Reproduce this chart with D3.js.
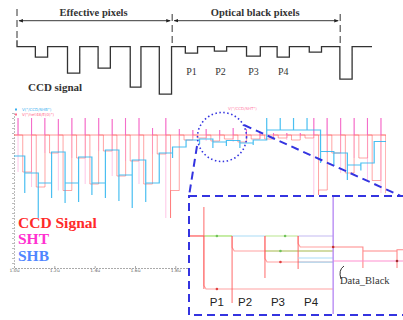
<!DOCTYPE html>
<html>
<head>
<meta charset="utf-8">
<script src="https://cdn.jsdelivr.net/npm/d3@7/dist/d3.min.js"></script>
<style>
  html, body { margin: 0; padding: 0; background: #fff; }
  svg { display: block; }
</style>
</head>
<body>
<svg id="chart" width="403" height="320"></svg>
<script>
// ---- top schematic: CCD output waveform ----
const schemEdges = [0, 5.07, 10.56];
const schemLabels = ["Effective pixels", "Optical black pixels"];
const ccdDropStart = [0.6, 1.65, 2.65, 3.7, 4.65, 5.5, 6.45, 7.5, 8.5, 9.55, 10.55];
const ccdDropEnd   = [1.0, 2.05, 3.05, 4.05, 5.05, 5.9, 6.85, 7.95, 8.9, 9.95, 10.95];
const ccdDepth     = [0.21, 0.53, 0.43, 0.81, 0.95, 0.13, 0.09, 0.19, 0.21, 0.11, 0.65];
const obNames = ["P1", "P2", "P3", "P4"];
const obIndex = [5, 6, 7, 8];

// ---- simulation plot (time in us, voltage in V) ----
const xTicks = [1.0, 1.2, 1.4, 1.6, 1.8, 2.0, 2.2, 2.4, 2.6, 2.8];
const xTickLabels = ["1.0u", "1.2u", "1.4u", "1.6u", "1.8u", "2.0u", "2.2u", "2.4u", "2.6u", "2.8u"];
const pixPeriod = 0.0667;
const resetLevel = 2.66;
const pixStart = [1.02, 1.087, 1.153, 1.22, 1.287, 1.353, 1.42, 1.487, 1.553, 1.62, 1.687, 1.753,
                  1.82, 1.887, 1.953, 2.02, 2.087, 2.153,
                  2.22, 2.287, 2.353, 2.42, 2.487, 2.553, 2.62, 2.687, 2.753, 2.82];
const ccdLevel = [1.92, 1.62, 2.3, 1.55, 2.2, 1.68, 2.34, 1.84, 2.14, 1.68, 2.28, 1.55,
                  2.56, 2.6, 2.54, 2.58, 2.52, 2.58,
                  2.58, 2.6, 2.56, 2.6, 1.56, 2.3, 1.9, 2.2, 1.75, 1.5];
const ccdDip   = [1.92, 1.62, 2.3, 1.55, 2.2, 1.68, 2.34, 1.84, 2.14, 1.68, 2.28, 1.0,
                  2.56, 2.6, 2.54, 2.58, 2.52, 2.58,
                  2.58, 2.6, 2.56, 2.6, 1.46, 2.3, 1.9, 2.2, 1.75, 1.5];
const shtTop   = [3.0, 3.0, 3.0, 2.98, 3.0, 3.0, 3.0, 2.98, 3.0, 3.0, 2.8, 3.0,
                  2.78, 2.76, 2.78, 2.76, 2.8, 2.78,
                  2.7, 2.7, 2.7, 2.7, 3.0, 3.0, 3.0, 3.0, 3.0, 3.0];
const shbStart = 2.24;
const shbLevel = [1.9, 1.7, 2.32, 1.7, 2.22, 1.7, 2.36, 1.86, 2.16, 1.7, 2.3, 2.42,
                  2.56, 2.58, 2.52, 2.55, 2.5, 2.56,
                  2.76, 2.76, 2.76, 2.76, 2.33, 2.3, 2.06, 2.1, 2.53, 1.96];
const shbSpike = [1.5, 1.0, 1.4, 1.3, 1.32, 1.46, 1.4, 1.34, 1.2, 1.32, 1.9, 2.2,
                  2.45, 2.48, 2.4, 2.44, 2.4, 2.46,
                  3.0, 3.0, 3.0, 3.0, 2.1, 2.05, 1.76, 1.95, 2.3, 1.8];

// ---- zoomed inset ----
const insetBase = 0.664;
const insetStart = [0.48, 1.39, 2.45, 3.52];
const insetLevel = [0.218, 0.538, 0.445, 0.571];
const insetTop = [0.908, 0.664, 0.664, 0.664];
const insetBottom = [0.218, 0.1, 0.311, 0.387];
const sampleT = 4.65;
const darkStart = [4.65, 5.61, 6.71];
const darkLevel = [0.571, 0.538, 0.548];
const darkSpike = [0.571, 0.395, 0.395];
const dataBlackLevel = 0.454;

const svg = d3.select("#chart");
svg.append("rect").attr("width", 403).attr("height", 320).attr("fill", "#fff");

// ================= top schematic =================
const xTop = d3.scaleLinear().domain([0, 11.6]).range([17, 372]);
const yTop = d3.scaleLinear().domain([0, 1]).range([46.7, 96.7]);

const defs = svg.append("defs");
["arrEnd", "arrStart"].forEach((id, k) => {
  defs.append("marker")
    .attr("id", id).attr("viewBox", "0 0 8 8")
    .attr("refX", k ? 1 : 7).attr("refY", 4)
    .attr("markerWidth", 5).attr("markerHeight", 5).attr("orient", "auto")
    .append("path")
    .attr("d", k ? "M8,1 L0,4 L8,7 Z" : "M0,1 L8,4 L0,7 Z")
    .attr("fill", "#222");
});

const topG = svg.append("g");
schemEdges.forEach((e, i) => {
  topG.append("line")
    .attr("x1", xTop(e)).attr("x2", xTop(e))
    .attr("y1", i === 0 ? 9 : 14).attr("y2", i === 0 ? 38 : 46)
    .attr("stroke", "#333").attr("stroke-width", 1)
    .attr("stroke-dasharray", "7,4");
});
schemLabels.forEach((lab, i) => {
  const a = schemEdges[i], b = schemEdges[i + 1];
  topG.append("line")
    .attr("x1", xTop(a) + 2).attr("x2", xTop(b) - 2)
    .attr("y1", 20.7).attr("y2", 20.7)
    .attr("stroke", "#222").attr("stroke-width", 0.9)
    .attr("marker-start", "url(#arrStart)").attr("marker-end", "url(#arrEnd)");
  topG.append("text")
    .attr("x", xTop((a + b) / 2) - 1).attr("y", 15.5)
    .attr("text-anchor", "middle")
    .attr("font-family", "Liberation Serif, serif").attr("font-weight", "bold")
    .attr("font-size", 10.5).attr("fill", "#333")
    .text(lab);
});

const wave = [[0, -0.13], [0, 0]];
ccdDropStart.forEach((s, i) => {
  wave.push([s, 0], [s, ccdDepth[i]], [ccdDropEnd[i], ccdDepth[i]], [ccdDropEnd[i], 0]);
});
wave.push([11.6, 0]);
topG.append("path")
  .attr("d", d3.line().x(d => xTop(d[0])).y(d => yTop(d[1]))(wave))
  .attr("fill", "none").attr("stroke", "#333").attr("stroke-width", 1.3);

obIndex.forEach((k, i) => {
  topG.append("text")
    .attr("x", xTop((ccdDropStart[k] + ccdDropEnd[k]) / 2)).attr("y", 75)
    .attr("text-anchor", "middle")
    .attr("font-family", "Liberation Serif, serif").attr("font-size", 10)
    .attr("fill", "#333").text(obNames[i]);
});
topG.append("text")
  .attr("x", 28).attr("y", 91)
  .attr("font-family", "Liberation Serif, serif").attr("font-weight", "bold")
  .attr("font-size", 11).attr("fill", "#333").text("CCD signal");

// ================= simulation plot =================
const x = d3.scaleLinear().domain([1.0, 2.84]).range([14, 385]);
const y = d3.scaleLinear().domain([0, 3.1]).range([268, 113]);

const plot = svg.append("g");
defs.append("clipPath").attr("id", "plotClip")
  .append("rect").attr("x", 14).attr("y", 108).attr("width", 372).attr("height", 160);

const yAxis = plot.append("g").attr("transform", "translate(14,0)")
  .call(d3.axisLeft(y).ticks(30).tickSize(2).tickFormat(""));
yAxis.select(".domain").attr("stroke", "#bbb").attr("stroke-dasharray", "2,1");
yAxis.selectAll("line").attr("stroke", "#bbb");

const xAxis = plot.append("g").attr("transform", "translate(0,268)")
  .call(d3.axisBottom(x).tickValues(xTicks).tickSize(-2)
    .tickFormat((d, i) => xTickLabels[i]));
xAxis.select(".domain").attr("stroke", "#aaa").attr("stroke-dasharray", "2,1");
xAxis.selectAll("line").attr("stroke", "#aaa");
xAxis.selectAll("text").attr("font-size", 4.5).attr("fill", "#666")
  .attr("font-family", "DejaVu Sans, sans-serif").attr("dy", "0.3em").attr("y", 3);

const g = plot.append("g").attr("clip-path", "url(#plotClip)");
const line = d3.line().x(d => x(d[0])).y(d => y(d[1]));

// reset level reference
g.append("path")
  .attr("d", line([[1.0, resetLevel], [2.9, resetLevel]]))
  .attr("stroke", "#ff6b6b").attr("stroke-opacity", 0.7).attr("stroke-width", 1).attr("fill", "none");

// CCD signal
const ccdPts = [[1.0, resetLevel]];
pixStart.forEach((t, i) => {
  const td = t + 0.35 * pixPeriod;
  ccdPts.push([td, resetLevel], [td, ccdDip[i]], [td, ccdLevel[i]],
              [t + pixPeriod, ccdLevel[i]], [t + pixPeriod, resetLevel]);
});
g.append("path").attr("d", line(ccdPts))
  .attr("fill", "none").attr("stroke", "#ff5b5b").attr("stroke-opacity", 0.55).attr("stroke-width", 1);

// SHT pulses
pixStart.forEach((t, i) => {
  const low = Math.min(ccdDip[i], resetLevel);
  g.append("path").attr("d", line([[t, low], [t, shtTop[i]]]))
    .attr("stroke", "#ff7fc8").attr("stroke-opacity", 0.45).attr("stroke-width", 1);
  g.append("path").attr("d", line([[t, resetLevel], [t, shtTop[i]]]))
    .attr("stroke", "#f050c0").attr("stroke-opacity", 0.75).attr("stroke-width", 1.1);
});

// SHB
const shbPts = [[1.0, shbStart]];
let prev = shbStart;
pixStart.forEach((t, i) => {
  const tb = t + 0.5 * pixPeriod;
  shbPts.push([tb, prev], [tb, shbSpike[i]], [tb, shbLevel[i]]);
  prev = shbLevel[i];
});
shbPts.push([2.9, prev]);
g.append("path").attr("d", line(shbPts))
  .attr("fill", "none").attr("stroke", "#2ab4ee").attr("stroke-opacity", 0.85).attr("stroke-width", 1.2);

// tiny legend of simulator
const simLeg = [["V(\"/CCD/SHB\")", "#3ab0f0", 111], ["V(\"/net48/E(0)\")", "#ff6b8b", 116]];
simLeg.forEach(d => {
  plot.append("rect").attr("x", 15).attr("y", d[2] - 2.5).attr("width", 2).attr("height", 2).attr("fill", d[1]);
  plot.append("text").attr("x", 22).attr("y", d[2]).attr("font-size", 4)
    .attr("font-family", "DejaVu Sans, sans-serif").attr("fill", d[1]).text(d[0]);
});
plot.append("text").attr("x", 228).attr("y", 110).attr("font-size", 4)
  .attr("font-family", "DejaVu Sans, sans-serif").attr("fill", "#ff7fa8").text("V(\"/CCD/SHT\")");

// big legend
const bigLeg = [["CCD Signal", "#ff2a2a", 228], ["SHT", "#ff30d0", 244], ["SHB", "#4f86ff", 261]];
bigLeg.forEach(d => {
  svg.append("text").attr("x", 18).attr("y", d[2])
    .attr("font-family", "Liberation Serif, serif").attr("font-weight", "bold")
    .attr("font-size", 15.5).attr("fill", d[1]).text(d[0]);
});

// ================= zoom callout =================
const blue = "#3434e0";
svg.append("circle").attr("cx", 222).attr("cy", 137).attr("r", 24.5)
  .attr("fill", "none").attr("stroke", blue).attr("stroke-width", 1.6)
  .attr("stroke-dasharray", "1.5,2.5");
svg.append("line").attr("x1", 197).attr("y1", 146).attr("x2", 189).attr("y2", 196)
  .attr("stroke", blue).attr("stroke-width", 2).attr("stroke-dasharray", "8,5");
svg.append("line").attr("x1", 244).attr("y1", 125).attr("x2", 403).attr("y2", 197)
  .attr("stroke", blue).attr("stroke-width", 2).attr("stroke-dasharray", "8,5");

svg.append("rect").attr("x", 189).attr("y", 196).attr("width", 220).attr("height", 119)
  .attr("fill", "#fff").attr("stroke", blue).attr("stroke-width", 2).attr("stroke-dasharray", "8,5");

const xIn = d3.scaleLinear().domain([0, 7]).range([189, 406]);
const yIn = d3.scaleLinear().domain([0, 1]).range([315, 196]);
const lineIn = d3.line().x(d => xIn(d[0])).y(d => yIn(d[1]));
const inset = svg.append("g");
defs.append("clipPath").attr("id", "insetClip")
  .append("rect").attr("x", 190).attr("y", 197).attr("width", 213).attr("height", 117);
inset.attr("clip-path", "url(#insetClip)");

const redIn = "#ff5555";
// reset level, coloured per sampling node
const baseColors = ["#ff5555", "#9fe06a", "#a9dcf6", "#b9e690", "#c4baf2"];
const baseEdges = [0, insetStart[0], insetStart[1], insetStart[2], insetStart[3], sampleT];
baseColors.forEach((c, i) => {
  inset.append("path").attr("d", lineIn([[baseEdges[i], insetBase], [baseEdges[i + 1], insetBase]]))
    .attr("stroke", c).attr("stroke-width", 1.2);
});
// held pixel levels
const overlay = [null, "#a6e57a", "#a9dcf6", null];
insetStart.forEach((s, i) => {
  inset.append("path").attr("d", lineIn([[s, insetTop[i]], [s, insetBottom[i]]]))
    .attr("stroke", redIn).attr("stroke-opacity", 0.8).attr("stroke-width", 1.1);
  const lv = insetLevel[i];
  inset.append("path")
    .attr("d", lineIn([[s, insetBase], [s, lv + 0.03], [s + 0.07, lv], [sampleT, lv]]))
    .attr("fill", "none").attr("stroke", redIn).attr("stroke-opacity", 0.55).attr("stroke-width", 1.1);
  if (overlay[i]) {
    inset.append("path").attr("d", lineIn([[insetStart[i + 1], lv], [sampleT, lv]]))
      .attr("stroke", overlay[i]).attr("stroke-width", 1.2);
  }
});
inset.append("path").attr("d", lineIn([[insetStart[3], 0.479], [sampleT, 0.479]]))
  .attr("stroke", "#a9dcf6").attr("stroke-width", 1.2);

// after the sampling point
const darkPts = [];
darkStart.forEach((s, i) => {
  const prevLv = i ? darkLevel[i - 1] : darkLevel[0];
  darkPts.push([s, prevLv], [s, darkSpike[i]], [s, darkLevel[i]]);
});
darkPts.push([7.2, darkLevel[2]]);
inset.append("path").attr("d", lineIn(darkPts))
  .attr("fill", "none").attr("stroke", redIn).attr("stroke-opacity", 0.7).attr("stroke-width", 1.1);
inset.append("path").attr("d", lineIn([[sampleT, dataBlackLevel], [7.2, dataBlackLevel]]))
  .attr("stroke", "#ff8fd0").attr("stroke-width", 1.1);
inset.append("path").attr("d", lineIn([[sampleT, 0], [sampleT, 1]]))
  .attr("stroke", "#b98cf4").attr("stroke-width", 1.4);

// probe markers
const dots = [[0.9, insetBase, "#6fc25a"], [3.1, insetBase, "#6fc25a"], [2.95, 0.538, "#6fc25a"],
              [0.9, 0.218, "#e04040"], [2.95, 0.445, "#e04040"], [sampleT, 0.571, "#c03030"],
              [6.71, dataBlackLevel, "#a03030"]];
dots.forEach(d => {
  inset.append("circle").attr("cx", xIn(d[0])).attr("cy", yIn(d[1])).attr("r", 1.3).attr("fill", d[2]);
});

insetStart.forEach((s, i) => {
  svg.append("text").attr("x", xIn(s + 0.42)).attr("y", 306)
    .attr("text-anchor", "middle")
    .attr("font-family", "Liberation Sans, Arial, sans-serif").attr("font-size", 11.5)
    .attr("fill", "#222").text(obNames[i]);
});
svg.append("path").attr("d", "M344,266 Q338,270 341,279")
  .attr("fill", "none").attr("stroke", "#333").attr("stroke-width", 1);
svg.append("text").attr("x", 340).attr("y", 284)
  .attr("font-family", "Liberation Serif, serif").attr("font-size", 10.5)
  .attr("fill", "#333").text("Data_Black");
</script>
</body>
</html>
